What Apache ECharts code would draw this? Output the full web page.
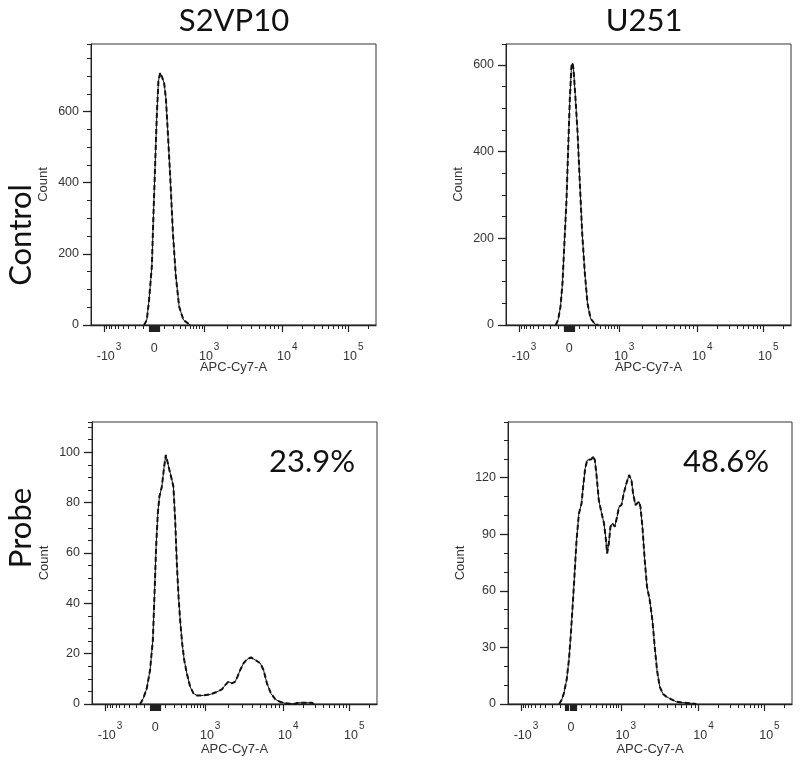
<!DOCTYPE html>
<html><head><meta charset="utf-8">
<script src="https://cdn.jsdelivr.net/npm/echarts@6/dist/echarts.min.js"></script>
<style>html,body{margin:0;padding:0;background:#fff}#c{width:800px;height:765px}</style>
</head><body><div id="c"></div>
<script>
// ---------- text ----------
const colTitles = ['S2VP10', 'U251'];
const rowTitles = ['Control', 'Probe'];
const percentLabels = ['23.9%', '48.6%'];
const xAxisTitle = 'APC-Cy7-A';
const yAxisTitle = 'Count';

// ---------- x axis (biexponential) ticks, raw fluorescence ----------
const majorTickValues = [-1000, 0, 1000, 10000, 100000];
const majorTickLabels = ['-10^3', '0', '10^3', '10^4', '10^5'];
const zeroClusterTicks = [-50, -40, -30, -20, -10, 10, 20, 30, 40, 50];
const minorTickValues = [-900, -800, -700, -600, -500, -400, -300, -200, -100,
  100, 200, 300, 400, 500, 600, 700, 800, 900,
  2000, 3000, 4000, 5000, 6000, 7000, 8000, 9000,
  20000, 30000, 40000, 50000, 60000, 70000, 80000, 90000, 200000];
const xMinRaw = -1470;
const xMaxRaw = 262144;

// ---------- y axes (one per panel: TL, TR, BL, BR) ----------
const yMax = [790, 648, 112, 149.5];
const yMajorStep = [200, 200, 20, 30];
const yMinorStep = [50, 50, 5, 10];

// ---------- histogram data: raw APC-Cy7-A value / count ----------
const s2vp10ControlX = [-96, -69, -47, -21, -6.5, 9.3, 25, 40, 56, 79, 96, 114, 135, 162, 196, 236, 286, 362, 512];
const s2vp10ControlY = [0, 14, 71, 165, 307, 449, 590, 685, 709, 694, 680, 638, 543, 420, 260, 137, 52, 14, 0];

const u251ControlX = [-131, -106, -82, -62, -47, -24, -9, 6.5, 22, 32, 41, 60, 80, 103, 128, 158, 191, 232, 300, 357];
const u251ControlY = [0, 12, 42, 97, 174, 290, 405, 521, 598, 604, 590, 521, 444, 328, 212, 120, 50, 15, 2, 0];

const s2vp10ProbeX = [-150, -114, -79, -47, -21, -6.5, 9.3, 25, 40, 63, 86, 103, 120, 142, 171, 190, 213, 236, 261, 286,
  320, 357, 409, 484, 570, 673, 922, 1159, 1413, 1637, 1805, 1990, 2199, 2424, 2594, 2810, 3097, 3424, 3854, 4375,
  5070, 5590, 6180, 6950, 7890, 9150, 10720, 14320, 17060, 27200, 28800];
const s2vp10ProbeY = [0, 2.3, 6.2, 13.5, 25.4, 42.6, 62.5, 75.7, 82.4, 86.3, 94.3, 98.9, 96.3, 92.9, 89, 86.3, 73, 55.9, 42.6, 33.4,
  24.1, 17.5, 12.2, 6.9, 4.2, 3.4, 3.4, 3.8, 4.8, 5.8, 7.5, 8.9, 8.2, 8.9, 10.9, 13.5, 16.2, 17.7, 18.5, 17.5,
  16.2, 13.5, 8.2, 4.2, 1.9, 0.8, 0.3, 0, 0.5, 0.5, 0];

const u251ProbeX = [-114, -89, -66, -40, -18.5, 0, 15.7, 31, 53, 76, 103, 120, 142, 166, 190, 221, 245, 271, 300, 337,
  392, 442, 484, 518, 563, 610, 673, 752, 840, 922, 1021, 1093, 1183, 1278, 1371, 1438, 1543, 1637, 1717, 1789,
  1897, 2031, 2174, 2354, 2549, 2729, 2921, 3162, 3486, 3854, 4467, 5177, 6290, 8060, 9340];
const u251ProbeY = [0, 2.1, 5.7, 12.7, 23.3, 37.5, 51.6, 65.7, 86.9, 101, 106.4, 115.2, 124.9, 129.3, 130.2, 129.7, 131.3, 129.3, 120.5, 108.1,
  101, 95.8, 87.8, 79.9, 85.2, 94, 95.8, 94, 99.3, 104.6, 105.5, 111.7, 117, 121.4, 118.7, 111.7, 105.5, 106.4, 107.3, 104.6,
  94, 76.3, 62.2, 55.1, 44.5, 30.4, 18, 9.2, 5.3, 3.9, 2.5, 1.2, 0.7, 0.4, 0];

const panelX = [s2vp10ControlX, u251ControlX, s2vp10ProbeX, u251ProbeX];
const panelY = [s2vp10ControlY, u251ControlY, s2vp10ProbeY, u251ProbeY];

// ---------- biexponential-like display transform ----------
const ASINH5 = Math.asinh(5);
function toDisplay(v) {
  if (v >= -1000 && v <= 1000) return 50 * Math.asinh(v / 200) / ASINH5;
  if (v > 1000 && v <= 10000) return 50 + 78 * Math.log10(v / 1000);
  if (v > 10000) return 128 + 66 * Math.log10(v / 10000);
  return -50 - 78 * Math.log10(-v / 1000);
}

// ---------- layout ----------
const grids = [
  { left: 91, top: 44, width: 285, height: 281 },
  { left: 506, top: 44, width: 285, height: 281 },
  { left: 92, top: 422, width: 285, height: 282 },
  { left: 508, top: 422, width: 284, height: 282 }
];
const xNameGap = [36, 36, 39, 39];

const TICK_FONT = 'Liberation Sans';
const BIG_FONT = 'Lato';
const labelColor = '#333';

const labelDisplay = majorTickValues.map(toDisplay);
function xLabelFormatter(val) {
  for (let i = 0; i < labelDisplay.length; i++) {
    if (Math.abs(labelDisplay[i] - val) < 0.01) {
      const parts = majorTickLabels[i].split('^');
      if (parts.length === 1) return '{z|' + parts[0] + '}';
      return '{b|' + parts[0] + '}{s|' + parts[1] + '}';
    }
  }
  return '';
}
const xRich = {
  b: { fontSize: 12.5, fontFamily: TICK_FONT, color: labelColor, verticalAlign: 'bottom', padding: [0, 0, 0, 10] },
  s: { fontSize: 10, fontFamily: TICK_FONT, color: labelColor, verticalAlign: 'top', lineHeight: 21, padding: [0, 0, 0, 1] },
  z: { fontSize: 12.5, fontFamily: TICK_FONT, color: labelColor, verticalAlign: 'top', lineHeight: 21 }
};

const xAxes = [], yAxes = [], series = [];
grids.forEach((g, i) => {
  const xmin = toDisplay(xMinRaw), xmax = toDisplay(xMaxRaw);
  xAxes.push({
    type: 'value', gridIndex: i, min: xmin, max: xmax, position: 'bottom',
    axisLine: { show: true, onZero: false, lineStyle: { color: '#222', width: 1.3 } },
    splitLine: { show: false },
    axisTick: { show: true, inside: false, length: 7, lineStyle: { color: '#222', width: 1.2 },
      customValues: majorTickValues.concat(zeroClusterTicks).map(toDisplay) },
    axisLabel: { show: true, customValues: labelDisplay, formatter: xLabelFormatter, rich: xRich, margin: 17 },
    name: xAxisTitle, nameLocation: 'middle', nameGap: xNameGap[i], nameMoveOverlap: false,
    nameTextStyle: { fontSize: 13, fontFamily: TICK_FONT, color: labelColor }
  });
  xAxes.push({
    type: 'value', gridIndex: i, min: xmin, max: xmax, position: 'bottom',
    axisLine: { show: false, onZero: false }, splitLine: { show: false },
    axisTick: { show: true, inside: false, length: 4, lineStyle: { color: '#222', width: 1 },
      customValues: minorTickValues.map(toDisplay) },
    axisLabel: { show: false }
  });
  yAxes.push({
    type: 'value', gridIndex: i, min: 0, max: yMax[i], interval: yMajorStep[i], position: 'left',
    axisLine: { show: true, onZero: false, lineStyle: { color: '#222', width: 1 } },
    splitLine: { show: false },
    axisTick: { show: true, inside: false, length: 8, lineStyle: { color: '#222', width: 1.3 } },
    axisLabel: { show: true, margin: 12, fontSize: 12.5, fontFamily: TICK_FONT, color: labelColor, showMaxLabel: false },
    name: yAxisTitle, nameLocation: 'middle', nameGap: 41, nameMoveOverlap: false,
    nameTextStyle: { fontSize: 13, fontFamily: TICK_FONT, color: labelColor }
  });
  yAxes.push({
    type: 'value', gridIndex: i, min: 0, max: yMax[i], interval: yMinorStep[i], position: 'left',
    axisLine: { show: false, onZero: false }, splitLine: { show: false },
    axisTick: { show: true, inside: false, length: 4, lineStyle: { color: '#222', width: 1 } },
    axisLabel: { show: false }
  });
  const pts = panelX[i].map((v, k) => [toDisplay(v), panelY[i][k]]);
  series.push({
    type: 'line', xAxisIndex: 2 * i, yAxisIndex: 2 * i, data: pts, showSymbol: false, silent: true,
    lineStyle: { color: '#111', width: 1 }, z: 5
  });
  series.push({
    type: 'line', xAxisIndex: 2 * i, yAxisIndex: 2 * i, data: pts, showSymbol: false, silent: true,
    lineStyle: { color: '#111', width: 2, type: [5, 3] }, z: 6
  });
});

const bigText = (text, x, y, rot) => ({
  type: 'text', x: x, y: y, rotation: rot || 0, silent: true,
  style: { text: text, fontSize: 31, fontFamily: BIG_FONT, fill: '#111', textAlign: 'center', textVerticalAlign: 'middle' }
});

const option = {
  animation: false,
  backgroundColor: '#fff',
  grid: grids.map(g => Object.assign({ show: true, borderColor: '#333', borderWidth: 1, backgroundColor: 'transparent', containLabel: false, outerBoundsMode: 'none' }, g)),
  xAxis: xAxes,
  yAxis: yAxes,
  series: series,
  graphic: [
    bigText(colTitles[0], 234, 21),
    bigText(colTitles[1], 644, 21),
    bigText(rowTitles[0], 21, 235, Math.PI / 2),
    bigText(rowTitles[1], 21, 528, Math.PI / 2),
    bigText(percentLabels[0], 312, 462),
    bigText(percentLabels[1], 726, 462)
  ]
};

const chart = echarts.init(document.getElementById('c'), null, { renderer: 'canvas' });
chart.setOption(option);
</script>
</body></html>
